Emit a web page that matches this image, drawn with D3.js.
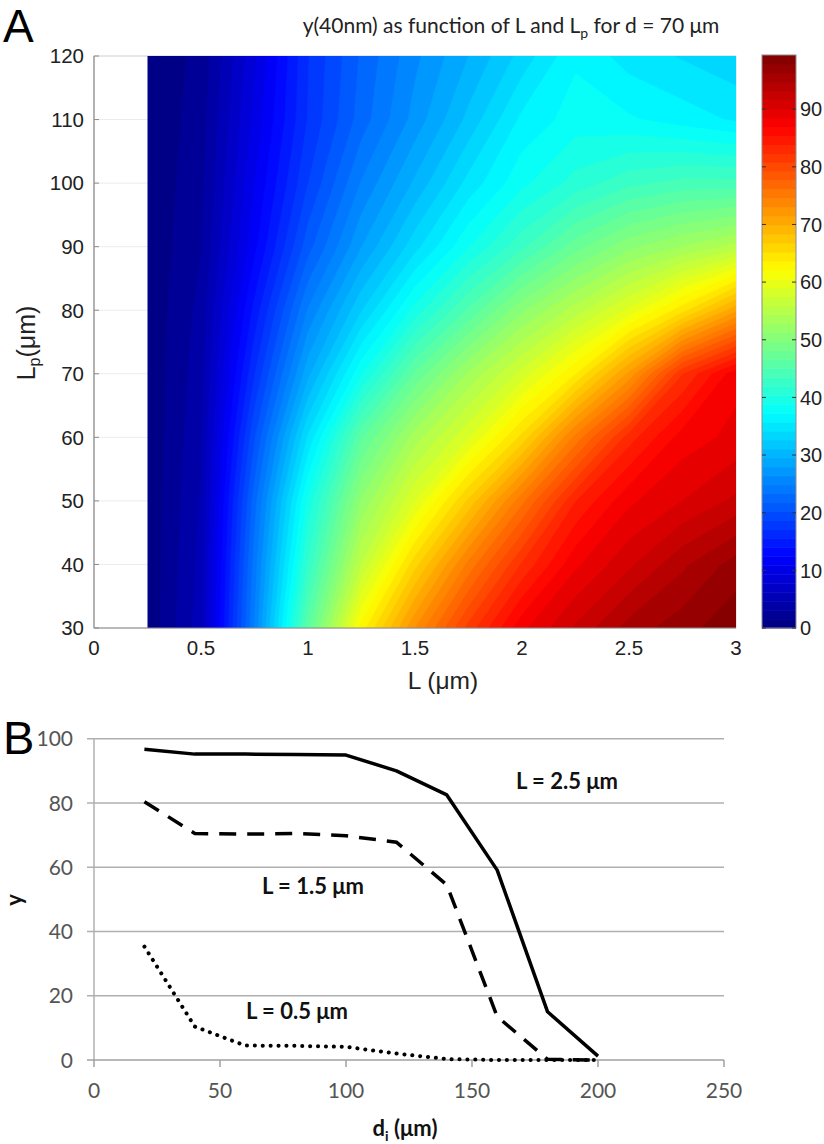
<!DOCTYPE html>
<html><head><meta charset="utf-8">
<script src="https://cdn.jsdelivr.net/npm/d3@7"></script>
<style>body{margin:0;background:#fff}svg{display:block}</style>
</head><body>
<svg id="chart" width="824" height="1144"></svg>
<script>
// ---------- Panel A data: y(40nm) on a grid of L (µm) x Lp (µm) ----------
const Lvals  = [0.25, 0.5, 0.75, 1.0, 1.25, 1.5, 1.75, 2.0, 2.25, 2.5, 2.75, 3.0];
const LpVals = [30, 40, 50, 60, 70, 80, 90, 100, 110, 120];
const yLp30  = [0.3, 5.5, 25.0, 46.1, 62.8, 73.0, 81.3, 88.1, 91.9, 95.4, 97.2, 99.0];
const yLp40  = [0.3, 5.2, 24.0, 42.2, 56.0, 66.2, 75.0, 82.5, 88.2, 91.3, 94.4, 97.0];
const yLp50  = [0.3, 4.8, 22.6, 39.2, 51.5, 59.0, 67.1, 75.6, 83.8, 88.2, 90.1, 92.0];
const yLp60  = [0.3, 4.4, 20.0, 34.4, 46.3, 53.6, 58.8, 65.7, 75.0, 83.1, 87.7, 89.0];
const yLp70  = [0.3, 4.0, 17.0, 29.0, 38.6, 46.8, 53.0, 58.0, 63.6, 71.8, 82.2, 88.0];
const yLp80  = [0.3, 3.6, 14.5, 25.0, 32.5, 39.4, 45.3, 50.9, 55.1, 59.4, 64.6, 71.0];
const yLp90  = [0.3, 3.0, 12.0, 21.1, 27.9, 33.6, 38.7, 43.1, 47.4, 50.8, 52.9, 55.0];
const yLp100 = [0.3, 2.6, 10.8, 18.6, 25.0, 29.8, 34.7, 38.4, 41.0, 43.0, 44.0, 44.0];
const yLp110 = [0.3, 2.3, 9.8, 17.2, 22.5, 27.0, 31.5, 36.1, 38.0, 37.5, 36.5, 35.5];
const yLp120 = [0.3, 2.0, 9.0, 17.0, 22.0, 26.0, 29.5, 33.2, 37.0, 35.0, 34.0, 33.0];
const gridRows = [yLp30, yLp40, yLp50, yLp60, yLp70, yLp80, yLp90, yLp100, yLp110, yLp120];
const colorDomain = [0, 99.4];
const colorTicks = [0, 10, 20, 30, 40, 50, 60, 70, 80, 90];
const xTicksA = [0, 0.5, 1, 1.5, 2, 2.5, 3];
const yTicksA = [30, 40, 50, 60, 70, 80, 90, 100, 110, 120];

// ---------- Panel B data ----------
const di = [20, 40, 60, 80, 100, 120, 140, 160, 180, 200];
const yL25 = [96.7, 95.2, 95.2, 95.1, 94.9, 90.0, 82.5, 59.1, 15.0, 1.2];
const yL15 = [80.4, 70.5, 70.3, 70.5, 69.8, 67.8, 54.5, 13.5, 0.2, 0.0];
const yL05 = [35.3, 10.4, 4.5, 4.4, 4.1, 2.0, 0.3, 0.0, 0.0, 0.0];
const xTicksB = [0, 50, 100, 150, 200, 250];
const yTicksB = [0, 20, 40, 60, 80, 100];

const svg = d3.select("#chart");
const fA = "Liberation Sans, Arial, sans-serif";
const fB = "Lato, Open Sans, sans-serif";

function jet(t) {
  const c = v => Math.max(0, Math.min(1, v));
  return d3.rgb(255 * c(1.5 - Math.abs(4 * t - 3)),
                255 * c(1.5 - Math.abs(4 * t - 2)),
                255 * c(1.5 - Math.abs(4 * t - 1))).formatHex();
}

// ================= PANEL A =================
const A = {left: 94, right: 736, top: 56, bottom: 628};
const xA = d3.scaleLinear().domain([0, 3]).range([A.left, A.right]);
const yA = d3.scaleLinear().domain([30, 120]).range([A.bottom, A.top]);

const gA = svg.append("g");
gA.selectAll("line.grid").data(yTicksA).join("line")
  .attr("x1", A.left).attr("x2", A.right)
  .attr("y1", d => yA(d)).attr("y2", d => yA(d))
  .attr("stroke", "#ececec").attr("stroke-width", 1);
gA.append("rect").attr("x", A.left).attr("y", A.top).attr("width", A.right - A.left).attr("height", A.bottom - A.top)
  .attr("fill", "none").attr("stroke", "#d8d8d8").attr("stroke-width", 1);

// filled contours (64 jet levels, like contourf)
const nx = Lvals.length, ny = LpVals.length;
const values = [];
gridRows.forEach(r => r.forEach(v => values.push(v)));
const dL = Lvals[1] - Lvals[0], dLp = LpVals[1] - LpVals[0];
const nLevels = 64;
const thresholds = d3.range(nLevels).map(k => colorDomain[0] + k * (colorDomain[1] - colorDomain[0]) / nLevels);
const contours = d3.contours().size([nx, ny]).thresholds(thresholds)(values);
const proj = d3.geoTransform({
  point(x, y) { this.stream.point(xA(Lvals[0] + (x - 0.5) * dL), yA(LpVals[0] + (y - 0.5) * dLp)); }
});
const path = d3.geoPath(proj);
svg.append("defs").append("clipPath").attr("id", "clipA").append("rect")
  .attr("x", xA(Lvals[0])).attr("y", yA(LpVals[ny - 1]))
  .attr("width", xA(Lvals[nx - 1]) - xA(Lvals[0]))
  .attr("height", yA(LpVals[0]) - yA(LpVals[ny - 1]));
gA.append("g").attr("clip-path", "url(#clipA)")
  .selectAll("path").data(contours).join("path")
  .attr("d", path)
  .attr("fill", (d, i) => jet((i + 0.5) / nLevels))
  .attr("stroke", (d, i) => jet((i + 0.5) / nLevels))
  .attr("stroke-width", 0.6);

// axes
gA.append("line").attr("x1", A.left).attr("x2", A.left).attr("y1", A.top).attr("y2", A.bottom)
  .attr("stroke", "#8c8c8c").attr("stroke-width", 1.2);
gA.append("line").attr("x1", A.left).attr("x2", A.right).attr("y1", A.bottom).attr("y2", A.bottom)
  .attr("stroke", "#8c8c8c").attr("stroke-width", 1.2);
gA.selectAll("line.yt").data(yTicksA).join("line")
  .attr("x1", A.left).attr("x2", A.left + 5)
  .attr("y1", d => yA(d)).attr("y2", d => yA(d))
  .attr("stroke", "#8c8c8c");
gA.selectAll("text.yt").data(yTicksA).join("text")
  .attr("x", A.left - 10).attr("y", d => yA(d)).attr("dy", "0.36em")
  .attr("text-anchor", "end").attr("font-family", fA)
  .attr("font-size", 20.5).attr("fill", "#222").text(d => d);
gA.selectAll("text.xt").data(xTicksA).join("text")
  .attr("x", d => xA(d)).attr("y", 655)
  .attr("text-anchor", "middle").attr("font-family", fA)
  .attr("font-size", 20.5).attr("fill", "#222").text(d => d);

gA.append("text").attr("x", 443).attr("y", 689).attr("text-anchor", "middle")
  .attr("font-family", fA).attr("font-size", 24.5).attr("fill", "#222")
  .text("L (μm)");
const yl = gA.append("text").attr("transform", "translate(35,343) rotate(-90)").attr("text-anchor", "middle")
  .attr("font-family", fA).attr("font-size", 25).attr("fill", "#222");
yl.append("tspan").text("L");
yl.append("tspan").attr("font-size", 16).attr("dy", 5).text("p");
yl.append("tspan").attr("dy", -5).text("(μm)");

// title
const tt = gA.append("text").attr("x", 511).attr("y", 33).attr("text-anchor", "middle")
  .attr("font-family", fB).attr("font-size", 21).attr("fill", "#222");
tt.append("tspan").text("y(40nm) as function of L and L");
tt.append("tspan").attr("font-size", 14).attr("dy", 5).text("p");
tt.append("tspan").attr("dy", -5).text(" for d = 70 μm");

svg.append("text").attr("x", 3).attr("y", 42).attr("font-family", fA)
  .attr("font-size", 46).attr("fill", "#000").text("A");

// colorbar
const CB = {x: 762, w: 34};
const cY = d3.scaleLinear().domain(colorDomain).range([A.bottom, A.top - 1]);
const bands = d3.range(nLevels);
const step = (colorDomain[1] - colorDomain[0]) / nLevels;
svg.append("g").selectAll("rect").data(bands).join("rect")
  .attr("x", CB.x).attr("width", CB.w)
  .attr("y", k => cY(colorDomain[0] + (k + 1) * step))
  .attr("height", k => cY(colorDomain[0] + k * step) - cY(colorDomain[0] + (k + 1) * step) + 0.5)
  .attr("fill", k => jet((k + 0.5) / nLevels));
svg.append("rect").attr("x", CB.x).attr("y", cY(colorDomain[1])).attr("width", CB.w)
  .attr("height", cY(colorDomain[0]) - cY(colorDomain[1])).attr("fill", "none")
  .attr("stroke", "#8c8c8c").attr("stroke-width", 1);
const cbt = svg.append("g");
cbt.selectAll("line.l").data(colorTicks).join("line")
  .attr("x1", CB.x).attr("x2", CB.x + 4).attr("y1", d => cY(d)).attr("y2", d => cY(d))
  .attr("stroke", "#333");
cbt.selectAll("line.r").data(colorTicks).join("line")
  .attr("x1", CB.x + CB.w - 4).attr("x2", CB.x + CB.w).attr("y1", d => cY(d)).attr("y2", d => cY(d))
  .attr("stroke", "#333");
cbt.selectAll("text").data(colorTicks).join("text")
  .attr("x", CB.x + CB.w + 4).attr("y", d => cY(d)).attr("dy", "0.36em")
  .attr("font-family", fA).attr("font-size", 20).attr("fill", "#222")
  .text(d => d);

// ================= PANEL B =================
const B = {left: 94, right: 724, top: 738.7, bottom: 1060};
const xB = d3.scaleLinear().domain([0, 250]).range([B.left, B.right]);
const yB = d3.scaleLinear().domain([0, 100]).range([B.bottom, B.top]);
const gB = svg.append("g");
gB.selectAll("line.grid").data(yTicksB.filter(d => d > 0)).join("line")
  .attr("x1", B.left - 7).attr("x2", B.right)
  .attr("y1", d => yB(d)).attr("y2", d => yB(d))
  .attr("stroke", "#b0b0b0").attr("stroke-width", 1.5);
gB.append("line").attr("x1", B.left).attr("x2", B.left).attr("y1", B.top).attr("y2", B.bottom)
  .attr("stroke", "#b0b0b0").attr("stroke-width", 1.5);
gB.append("line").attr("x1", B.left - 7).attr("x2", B.right).attr("y1", B.bottom).attr("y2", B.bottom)
  .attr("stroke", "#a0a0a0").attr("stroke-width", 1.5);
gB.selectAll("line.xt").data(xTicksB).join("line")
  .attr("x1", d => xB(d)).attr("x2", d => xB(d)).attr("y1", B.bottom).attr("y2", B.bottom + 7)
  .attr("stroke", "#a0a0a0").attr("stroke-width", 1.5);
gB.selectAll("text.yt").data(yTicksB).join("text")
  .attr("x", B.left - 21).attr("y", d => yB(d)).attr("dy", "0.36em")
  .attr("text-anchor", "end").attr("font-family", fB).attr("font-size", 21).attr("fill", "#555")
  .text(d => d);
gB.selectAll("text.xt").data(xTicksB).join("text")
  .attr("x", d => xB(d)).attr("y", 1098).attr("text-anchor", "middle")
  .attr("font-family", fB).attr("font-size", 21).attr("fill", "#555").text(d => d);

const line = d3.line().x((d, i) => xB(di[i])).y(d => yB(d));
gB.append("path").datum(yL25).attr("d", line).attr("fill", "none").attr("stroke", "#000")
  .attr("stroke-width", 3.5).attr("stroke-linejoin", "round");
gB.append("path").datum(yL15).attr("d", line).attr("fill", "none").attr("stroke", "#000")
  .attr("stroke-width", 3.5).attr("stroke-dasharray", "17,11");
gB.append("path").datum(yL05).attr("d", line).attr("fill", "none").attr("stroke", "#000")
  .attr("stroke-width", 4).attr("stroke-linecap", "round").attr("stroke-dasharray", "0.1,7.8");

const lab = (x, y, t) => gB.append("text").attr("x", x).attr("y", y)
  .attr("font-family", fB).attr("font-size", 22).attr("font-weight", "bold").attr("fill", "#111").text(t);
lab(516, 789, "L = 2.5 μm");
lab(262, 894, "L = 1.5 μm");
lab(246, 1019, "L = 0.5 μm");

const xt = gB.append("text").attr("x", 405).attr("y", 1136).attr("text-anchor", "middle")
  .attr("font-family", fB).attr("font-size", 22).attr("font-weight", "bold").attr("fill", "#111");
xt.append("tspan").text("d");
xt.append("tspan").attr("font-size", 14).attr("dy", 5).text("i");
xt.append("tspan").attr("dy", -5).text(" (μm)");
gB.append("text").attr("transform", "translate(22,900) rotate(-90)").attr("text-anchor", "middle")
  .attr("font-family", fB).attr("font-size", 22).attr("font-weight", "bold").attr("fill", "#111").text("y");

svg.append("text").attr("x", 3).attr("y", 754).attr("font-family", fA)
  .attr("font-size", 47).attr("fill", "#000").text("B");
</script>
</body></html>
